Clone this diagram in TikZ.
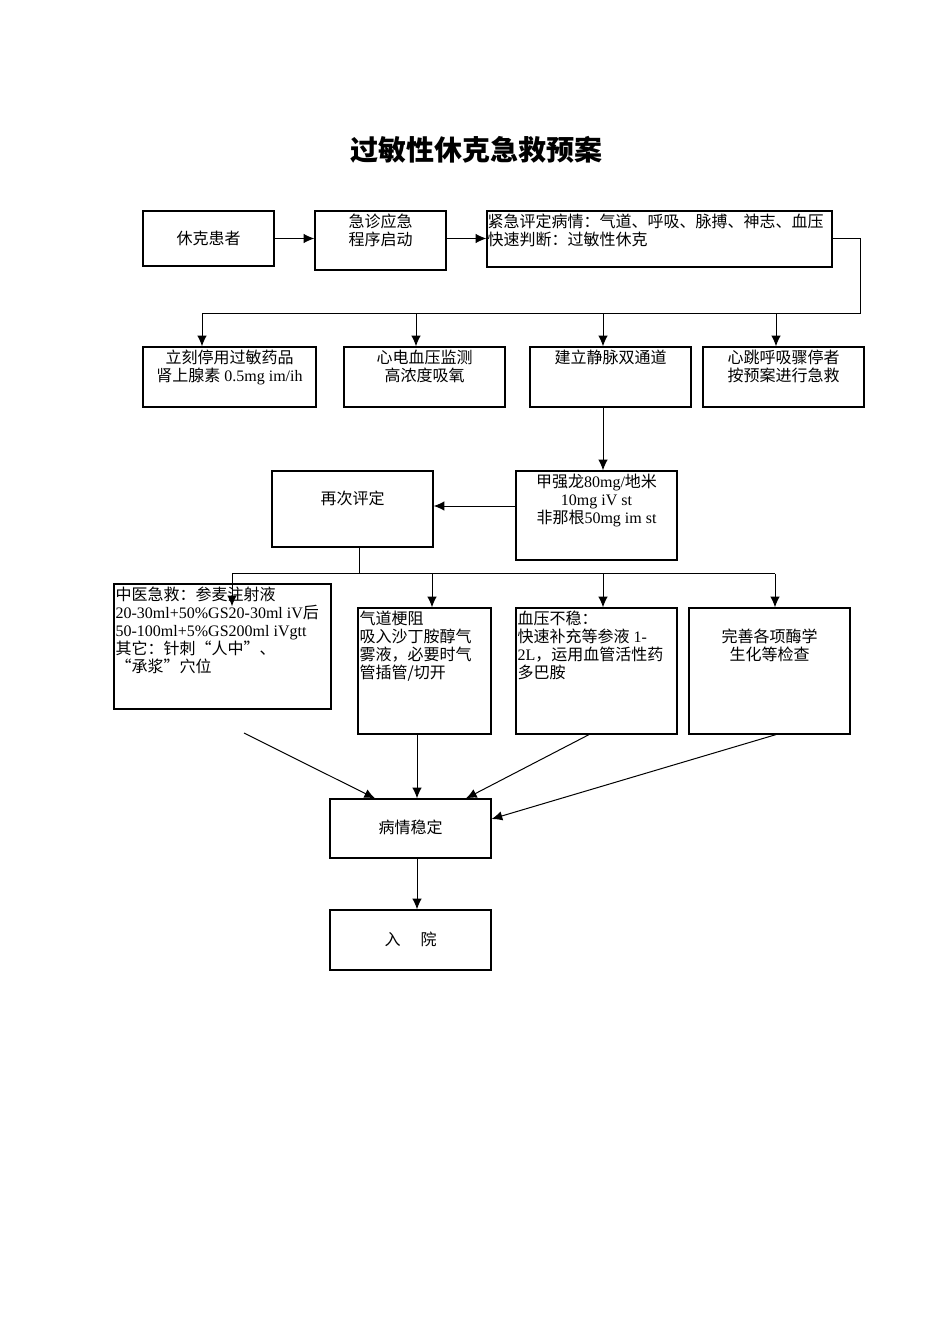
\documentclass[tikz,border=0pt]{standalone}
\usepackage{fontspec}
\setmainfont{Noto Sans CJK SC}
\newfontfamily\latf{Liberation Serif}
\usetikzlibrary{arrows.meta,calc,fit}
\newcommand\la[1]{{\latf #1}}
\newcommand\mybox[5]{\node[bx, fit={(#2,#3)(#4,#5)}] (#1) {};}
\begin{document}
\begin{tikzpicture}[x=0.75pt,y=-0.75pt,
  bx/.style={draw, line width=0.9pt, inner sep=0pt},
  txt/.style={inner sep=0pt, font=\fontsize{12}{13.5}\selectfont},
  ln/.style={line width=0.75pt},
  arr/.style={ln, -{Latex[length=8pt,width=7pt]}}]
\useasboundingbox (0,0) rectangle (950,1344);
\node[inner sep=0pt, font=\fontsize{21}{24}\selectfont\bfseries] (title) at (476,150) {过敏性休克急救预案};
% boxes
\mybox{b1}{143}{211}{274}{266}
\mybox{b2}{315}{211}{446}{270}
\mybox{b3}{487}{211}{832}{267}
\mybox{c1}{143}{347}{316}{407}
\mybox{c2}{344}{347}{505}{407}
\mybox{c3}{530}{347}{691}{407}
\mybox{c4}{703}{347}{864}{407}
\mybox{d1}{272}{471}{433}{547}
\mybox{d2}{516}{471}{677}{560}
\mybox{e1}{114}{584}{331}{709}
\mybox{e2}{358}{608}{491}{734}
\mybox{e3}{516}{608}{677}{734}
\mybox{e4}{689}{608}{850}{734}
\mybox{f}{330}{799}{491}{858}
\mybox{g}{330}{910}{491}{970}
% texts
\node[txt] (b1t) at (b1) {休克患者};
\node[txt,anchor=north,align=center] (b2t) at ($(b2.north)+(0,3)$) {急诊应急\\程序启动};
\node[txt,anchor=north west,align=left] (b3t) at ($(b3.north west)+(1,3)$) {紧急评定病情：气道、呼吸、脉搏、神志、血压\\快速判断：过敏性休克};
\node[txt,anchor=north,align=center] (c1t) at ($(c1.north)+(0,3.5)$) {立刻停用过敏药品\\肾上腺素\la{ 0.5mg im/ih}};
\node[txt,anchor=north,align=center] (c2t) at ($(c2.north)+(0,3.5)$) {心电血压监测\\高浓度吸氧};
\node[txt,anchor=north,align=center] (c3t) at ($(c3.north)+(0,3.5)$) {建立静脉双通道};
\node[txt,anchor=north,align=center] (c4t) at ($(c4.north)+(0,3.5)$) {心跳呼吸骤停者\\按预案进行急救};
\node[txt] (d1t) at ($(d1.north)+(0,28)$) {再次评定};
\node[txt,anchor=north,align=center] (d2t) at ($(d2.north)+(0,3.5)$) {甲强龙\la{80mg/}地米\\\la{10mg iV st}\\非那根\la{50mg im st}};
\node[txt,anchor=north west,align=left] (e1t) at ($(e1.north west)+(2,3)$) {中医急救：参麦注射液\\\la{20-30ml+50\%GS20-30ml iV}后\\\la{50-100ml+5\%GS200ml iVgtt}\\其它：针刺“人中”、\\“承浆”穴位};
\node[txt,anchor=north west,align=left] (e2t) at ($(e2.north west)+(2,3.5)$) {气道梗阻\\吸入沙丁胺醇气\\雾液，必要时气\\管插管/切开};
\node[txt,anchor=north west,align=left] (e3t) at ($(e3.north west)+(2,3.5)$) {血压不稳：\\快速补充等参液\la{ 1-}\\\la{2L}，运用血管活性药\\多巴胺};
\node[txt,anchor=north,align=center] (e4t) at ($(e4.north)+(0,21)$) {完善各项酶学\\生化等检查};
\node[txt] (ft) at ($(f)+(0,-1)$) {病情稳定};
\node[txt] (gt) at ($(g)+(0,-1)$) {入\hspace{15pt}院};
% connectors row 1
\draw[arr] (b1.east) -- (b2.west |- b1.east);
\draw[arr] (b2.east |- b1.east) -- (b3.west |- b1.east);
\coordinate (bus1) at (860,314);
\coordinate (c1in) at ($(c1.north)+(-27.5,0)$);
\coordinate (c2in) at ($(c2.north)+(-8.5,0)$);
\coordinate (c3in) at ($(c3.north)+(-7.5,0)$);
\coordinate (c4in) at ($(c4.north)+(-7.5,0)$);
\draw[ln] (b3.east) -| (bus1) -- (bus1 -| c1in);
\foreach \n in {c1in,c2in,c3in,c4in} \draw[arr] (\n |- bus1) -- (\n);
% row 2 to 3
\coordinate (c3out) at ($(c3.south)+(-7.5,0)$);
\draw[arr] (c3out) -- (c3out |- d2.north);
\coordinate (d2out) at ($(d2.west)+(0,-9.5)$);
\draw[arr] (d2out) -- (d2out -| d1.east);
% second bus
\coordinate (d1out) at ($(d1.south)+(6.5,0)$);
\coordinate (bus2) at ($(d1out)+(0,26)$);
\coordinate (e1in) at ($(e1.north)+(9.5,23)$);
\coordinate (e2in) at ($(e2.north)+(7.5,0)$);
\coordinate (e3in) at ($(e3.north)+(6.5,0)$);
\coordinate (e4in) at ($(e4.north)+(5.5,0)$);
\draw[ln] (d1out) -- (bus2);
\draw[ln] (bus2 -| e1in) -- (bus2 -| e4in);
\foreach \n in {e1in,e2in,e3in,e4in} \draw[arr] (bus2 -| \n) -- (\n);
% to f
\coordinate (e1end) at (244,733);
\draw[arr] (e1end) -- ($(f.north)+(-35.5,0)$);
\draw[arr] ($(e2.south)+(-7.5,0)$) -- ($(f.north)+(6.5,0)$);
\draw[arr] ($(e3.south)+(-7.5,0)$) -- ($(f.north)+(55.5,0)$);
\draw[arr] ($(e4.south)+(6.5,0)$) -- ($(f.east)+(0,-9.5)$);
\draw[arr] ($(f.south)+(6.5,0)$) -- ($(g.north)+(6.5,0)$);
\end{tikzpicture}
\end{document}
